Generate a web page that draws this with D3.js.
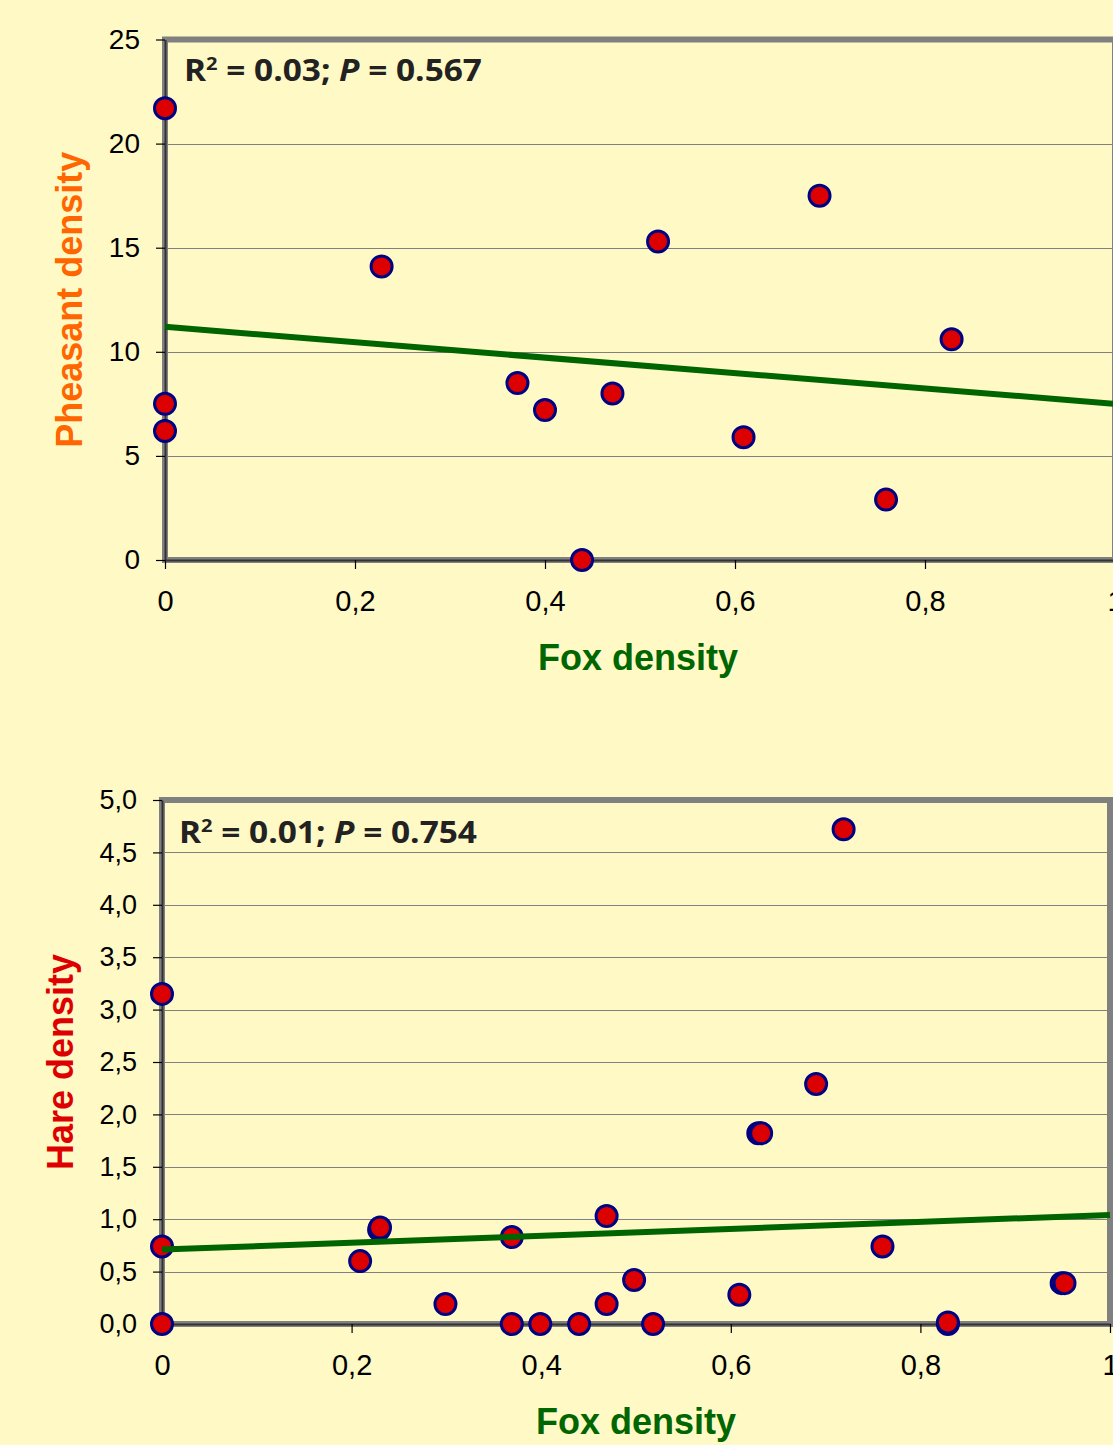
<!DOCTYPE html>
<html>
<head>
<meta charset="utf-8">
<script src="https://cdn.jsdelivr.net/npm/d3@7"></script>
<style>
  html, body { margin: 0; padding: 0; background: #FFF9C6; }
  svg { display: block; }
</style>
</head>
<body>
<svg id="chart" width="1113" height="1445"></svg>
<script>
// ---------- DATA ----------
// Top panel: fox density vs pheasant density
const pheasantFox     = [0, 0, 0, 0.228, 0.371, 0.400, 0.471, 0.519, 0.439, 0.609, 0.689, 0.759, 0.828];
const pheasantDensity = [21.7, 7.5, 6.2, 14.1, 8.5, 7.2, 8.0, 15.3, 0, 5.9, 17.5, 2.9, 10.6];
const pheasantTrend   = [[0, 11.2], [1, 7.5]];
const pheasantYTicks  = [0, 5, 10, 15, 20, 25];
const pheasantStat    = { r2: "0.03", p: "0.567" };

// Bottom panel: fox density vs hare density
const hareFox     = [0, 0, 0, 0.209, 0.229, 0.230, 0.299, 0.369, 0.369, 0.399, 0.440, 0.469, 0.469, 0.498, 0.518,
                     0.609, 0.629, 0.632, 0.690, 0.719, 0.760, 0.829, 0.829, 0.949, 0.952];
const hareDensity = [3.15, 0.74, 0, 0.60, 0.90, 0.92, 0.19, 0.83, 0, 0, 0, 1.03, 0.19, 0.42, 0,
                     0.28, 1.82, 1.82, 2.29, 4.72, 0.74, 0, 0.015, 0.39, 0.39];
const hareTrend   = [[0, 0.71], [1, 1.04]];
const hareYTicks  = [0, 0.5, 1, 1.5, 2, 2.5, 3, 3.5, 4, 4.5, 5];
const hareStat    = { r2: "0.01", p: "0.754" };

const foxTicks = [0, 0.2, 0.4, 0.6, 0.8, 1];

// ---------- DRAW ----------
const svg = d3.select("#chart");
const BG = "#FFF9C6";
svg.append("rect").attr("width", 1113).attr("height", 1445).attr("fill", BG);

const comma = d => d3.format(".1f")(d).replace(".", ",");
const commaX = d => (d === 0 ? "0" : d === 1 ? "1" : String(d).replace(".", ","));

function panel(cfg) {
  const x = d3.scaleLinear().domain([0, 1]).range([cfg.x0, cfg.x1]);
  const y = d3.scaleLinear().domain([0, cfg.yMax]).range([cfg.y0, cfg.y1]);
  const g = svg.append("g");

  // plot background
  g.append("rect")
    .attr("x", cfg.x0).attr("y", cfg.y1)
    .attr("width", cfg.x1 - cfg.x0).attr("height", cfg.y0 - cfg.y1)
    .attr("fill", BG);

  // gridlines
  g.append("g").selectAll("line")
    .data(cfg.yTicks.filter(t => t > 0 && t < cfg.yMax))
    .join("line")
    .attr("x1", cfg.x0).attr("x2", cfg.x1)
    .attr("y1", d => Math.round(y(d)) + 0.5).attr("y2", d => Math.round(y(d)) + 0.5)
    .attr("stroke", "#808080").attr("stroke-width", 1);

  // plot border
  g.append("rect")
    .attr("x", cfg.x0).attr("y", cfg.y1)
    .attr("width", cfg.x1 - cfg.x0).attr("height", cfg.y0 - cfg.y1)
    .attr("fill", "none").attr("stroke", "#808080").attr("stroke-width", 6);

  // axes
  const xAxis = d3.axisBottom(x).tickValues(foxTicks).tickFormat(commaX)
    .tickSize(9).tickSizeOuter(0).tickPadding(21);
  const yAxis = d3.axisLeft(y).tickValues(cfg.yTicks).tickFormat(cfg.yFmt)
    .tickSize(9).tickSizeOuter(0).tickPadding(16);

  const gx = g.append("g").attr("transform", `translate(0,${cfg.y0})`).call(xAxis);
  const gy = g.append("g").attr("transform", `translate(${cfg.x0},0)`).call(yAxis);
  [gx, gy].forEach(a => {
    a.select(".domain").attr("stroke", "#333").attr("stroke-width", 2);
    a.selectAll(".tick line").attr("stroke", "#000").attr("stroke-width", 1.2);
    a.selectAll(".tick text")
      .attr("fill", "#000")
      .attr("font-family", "'Liberation Sans', Arial, sans-serif");
  });
  gx.selectAll(".tick text").attr("dy", "0.71em").attr("font-size", 29);
  gy.selectAll(".tick text").attr("font-size", cfg.tickFont);

  // markers
  const pts = cfg.xs.map((v, i) => [v, cfg.ys[i]]);
  g.append("g").selectAll("circle")
    .data(pts).join("circle")
    .attr("cx", d => x(d[0])).attr("cy", d => y(d[1]))
    .attr("r", 10.5)
    .attr("fill", "#DD0000").attr("stroke", "#000080").attr("stroke-width", 3);

  // trend line
  g.append("path")
    .datum(cfg.trend)
    .attr("d", d3.line().x(d => x(d[0])).y(d => y(d[1])))
    .attr("stroke", "#006400").attr("stroke-width", 6).attr("fill", "none");

  // stat text
  const t = g.append("text")
    .attr("x", cfg.statX).attr("y", cfg.statY)
    .attr("font-family", "'Open Sans', 'Noto Sans', sans-serif")
    .attr("font-weight", "bold").attr("font-size", 30).attr("fill", "#222")
    .attr("textLength", 298).attr("lengthAdjust", "spacingAndGlyphs");
  t.append("tspan").text("R");
  t.append("tspan").attr("font-size", 18).attr("dy", -11).text("2");
  t.append("tspan").attr("dy", 11).text(` = ${cfg.stat.r2}; `);
  t.append("tspan").attr("font-style", "italic").text("P");
  t.append("tspan").text(` = ${cfg.stat.p}`);

  // axis titles
  g.append("text")
    .attr("x", cfg.xTitleX).attr("y", cfg.xTitleY)
    .attr("text-anchor", "middle")
    .attr("font-family", "'Liberation Sans', Arial, sans-serif")
    .attr("font-weight", "bold").attr("font-size", 36).attr("fill", "#006600")
    .text("Fox density");
  g.append("text")
    .attr("transform", `translate(${cfg.yTitleX},${(cfg.y0 + cfg.y1) / 2}) rotate(-90)`)
    .attr("text-anchor", "middle")
    .attr("font-family", "'Liberation Sans', Arial, sans-serif")
    .attr("font-weight", "bold").attr("font-size", 36).attr("fill", cfg.yTitleColor)
    .text(cfg.yTitle);
}

panel({
  x0: 165, x1: 1115, y0: 560, y1: 39.5, yMax: 25,
  yTicks: pheasantYTicks, yFmt: d => String(d), tickFont: 28,
  xs: pheasantFox, ys: pheasantDensity, trend: pheasantTrend,
  stat: pheasantStat, statX: 184, statY: 81,
  xTitleX: 638, xTitleY: 670,
  yTitle: "Pheasant density", yTitleColor: "#FF6600", yTitleX: 82
});

panel({
  x0: 162, x1: 1110, y0: 1324, y1: 800, yMax: 5,
  yTicks: hareYTicks, yFmt: comma, tickFont: 27,
  xs: hareFox, ys: hareDensity, trend: hareTrend,
  stat: hareStat, statX: 179, statY: 843,
  xTitleX: 636, xTitleY: 1434,
  yTitle: "Hare density", yTitleColor: "#DD0000", yTitleX: 73
});
</script>
</body>
</html>
